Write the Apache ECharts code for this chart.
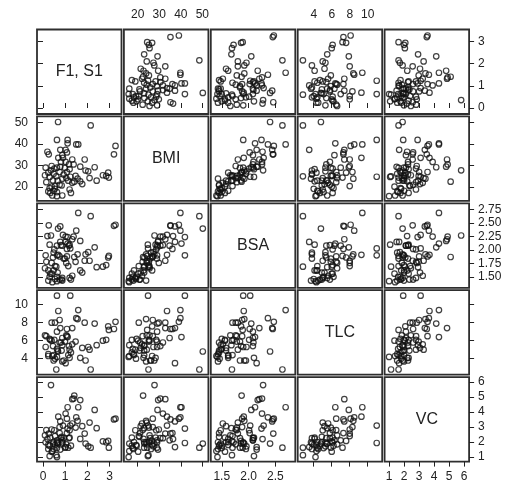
<!DOCTYPE html>
<html><head><meta charset="utf-8">
<script src="https://cdn.jsdelivr.net/npm/echarts@6/dist/echarts.min.js"></script>
<style>html,body{margin:0;padding:0;background:#fff}#c{width:505px;height:484px}</style>
</head><body><div id="c"></div>
<script>
const varNames = ['F1, S1', 'BMI', 'BSA', 'TLC', 'VC'];
const F1S1 = [3.27,3.20,2.97,2.94,2.85,2.70,2.42,2.33,2.15,2.10, 2.04,1.92,1.88,1.59,1.50,1.11,1.11,1.02,1.08,1.32, 1.17,1.38,1.68,1.02,1.20,1.23,1.41,1.47,1.56,1.68, 1.77,1.32,1.20,1.26,1.05,1.14,0.99,1.08,0.68,0.63, 0.20,0.26,0.78,0.87,0.69,0.90,0.81,0.12,0.39,0.51, 0.63,0.78,0.09,0.24,0.36,0.48,0.60,0.75,0.93,0.87, 0.30,0.45,0.30,0.39,0.54,0.75,0.84,0.24,0.33,0.48, 0.63,0.63,0.87,0.54,0.42,0.66,0.15];
const BMI = [39.1,35.2,24.4,26.7,25.2,25.5,23.0,29.2,48.6,24.2, 27.3,27.7,32.8,39.8,39.8,41.9,40.3,37.3,36.1,32.8, 30.5,30.5,29.5,31.7,28.3,24.8,22.5,25.2,23.9,22.7, 21.4,22.0,18.9,17.3,24.2,23.0,28.9,27.0,50.2,41.9, 36.4,35.2,37.3,34.8,33.6,33.6,31.7,29.0,29.8,28.6, 29.0,29.4,25.5,26.7,27.8,26.2,25.0,27.0,25.8,23.9, 24.7,23.1,19.5,20.2,20.5,21.1,20.8,18.0,17.3,18.3, 17.7,15.8,16.1,19.2,16.1,23.0,22.3];
const BSA = [2.47,2.45,1.89,1.86,1.72,1.69,1.68,2.05,2.63,1.80, 1.96,1.92,1.80,2.69,2.36,2.24,2.12,2.15,2.02,2.20, 2.08,2.25,2.17,2.25,2.10,2.03,1.87,1.78,1.92,1.62, 1.58,1.52,1.48,1.45,1.76,1.70,1.84,1.88,2.40,1.90, 2.26,2.46,2.44,2.08,1.91,2.28,2.09,1.90,1.76,2.01, 2.08,2.15,1.66,1.62,2.27,1.95,1.69,1.88,1.84,1.43, 2.10,1.86,1.50,1.56,1.70,1.45,1.45,1.43,1.56,1.62, 1.50,1.42,1.48,1.46,1.40,1.58,1.78];
const TLC = [8.1,7.3,7.2,7.6,6.1,6.0,5.5,7.9,2.8,5.0, 5.3,3.8,8.0,9.4,8.5,null,6.4,3.5,7.3,7.4, 5.4,null,null,null,4.1,11.0,null,5.9,8.4,4.1, 5.2,5.6,5.0,4.7,6.6,4.4,5.9,6.5,4.8,11.0, null,null,7.4,6.3,9.3,null,5.8,5.3,8.0,6.1, 7.0,null,6.6,4.3,null,3.8,2.8,8.3,3.8,3.7, null,5.4,6.2,6.0,8.0,5.8,4.9,4.5,6.1,4.4, 5.1,4.2,5.5,4.0,4.3,4.9,6.5];
const VC = [3.56,3.51,1.63,2.08,1.99,2.05,2.93,4.14,1.63,3.3, 1.72,1.9,2.57,4.32,3.65,2.9,4.32,1.67,2.6,4.86, 2.26,4.9,4.8,3.9,2.3,3.1,5.1,2.97,3.42,2.21, 3.06,3.24,2.79,1.76,1.85,1.63,1.63,3.56,1.9,1.94, 2.2,2.57,3.38,2.12,3.69,3.1,2.26,1.99,2.84,2.79, 2.12,1.5,2.45,1.81,5.8,1.54,1.13,3.0,2.26,1.99, 1.07,1.9,1.76,1.36,2.4,2.6,2.35,1.54,2.3,2.0, 1.6,1.0,1.9,1.8,1.4,2.0,2.8];
const ticksF1 = [0, 1, 2, 3];
const ticksBMI = [20, 30, 40, 50];
const ticksBSAx = [1.5, 2.0, 2.5];
const ticksBSAy = [1.5, 1.75, 2.0, 2.25, 2.5, 2.75];
const ticksTLC = [4, 6, 8, 10];
const ticksVC = [1, 2, 3, 4, 5, 6];

const vars = [F1S1, BMI, BSA, TLC, VC];
const ticksX = [ticksF1, ticksBMI, ticksBSAx, ticksTLC, ticksVC];
const ticksY = [ticksF1, ticksBMI, ticksBSAy, ticksTLC, ticksVC];
const ranges = [[-0.27, 3.54], [13.6, 52.8], [1.296, 2.87], [2.22, 11.61], [0.7, 6.33]];
const fmtX = [v => String(v), v => String(v), v => v.toFixed(1), v => String(v), v => String(v)];
const fmtY = [v => String(v), v => String(v), v => v.toFixed(2), v => String(v), v => String(v)];

const L0 = 37, T0 = 29.5, STEP = 86.9, SIZE = 84.5;
const FONT = 'Liberation Sans, Arial, sans-serif';
const grids = [], xAxes = [], yAxes = [], series = [], graphics = [];
for (let r = 0; r < 5; r++) {
  for (let c = 0; c < 5; c++) {
    const gi = r * 5 + c;
    const left = L0 + c * STEP, top = T0 + r * STEP;
    grids.push({left: left, top: top, width: SIZE, height: SIZE, show: true,
      borderColor: '#2e2e2e', borderWidth: 1.8, backgroundColor: 'transparent', containLabel: false});
    const xEdge = (r === 0 || r === 4);
    const xLab = (r === 0 && c % 2 === 1) || (r === 4 && c % 2 === 0);
    xAxes.push({type: 'value', gridIndex: gi, min: ranges[c][0], max: ranges[c][1],
      position: r === 0 ? 'top' : 'bottom', show: xEdge,
      axisLine: {show: false}, splitLine: {show: false},
      axisTick: {show: xEdge, length: 5, customValues: ticksX[c], lineStyle: {color: '#222', width: 1}},
      axisLabel: {show: xLab, customValues: ticksX[c], margin: 9, fontSize: 12, color: '#222', fontFamily: FONT, formatter: fmtX[c]}});
    const yEdge = (c === 0 || c === 4);
    const yLab = (c === 0 && r % 2 === 1) || (c === 4 && r % 2 === 0);
    yAxes.push({type: 'value', gridIndex: gi, min: ranges[r][0], max: ranges[r][1],
      position: c === 0 ? 'left' : 'right', show: yEdge,
      axisLine: {show: false}, splitLine: {show: false},
      axisTick: {show: yEdge, length: 5, customValues: ticksY[r], lineStyle: {color: '#222', width: 1}},
      axisLabel: {show: yLab, customValues: ticksY[r], margin: 9, fontSize: 12, color: '#222', fontFamily: FONT, formatter: fmtY[r]}});
    if (r === c) {
      graphics.push({type: 'text', x: left + SIZE / 2, y: top + SIZE / 2,
        style: {text: varNames[r], fontSize: 16, fontFamily: FONT, fill: '#222',
          align: 'center', verticalAlign: 'middle', textAlign: 'center', textVerticalAlign: 'middle'}});
    } else {
      const xs = vars[c], ys = vars[r];
      const data = [];
      for (let i = 0; i < xs.length; i++) {
        if (xs[i] != null && ys[i] != null) data.push([xs[i], ys[i]]);
      }
      series.push({type: 'scatter', xAxisIndex: gi, yAxisIndex: gi, data: data,
        symbol: 'circle', symbolSize: 5.5, silent: true,
        itemStyle: {color: 'rgba(0,0,0,0)', borderColor: '#111', borderWidth: 1.2}});
    }
  }
}
const chart = echarts.init(document.getElementById('c'), null, {renderer: 'canvas'});
chart.setOption({animation: false, backgroundColor: '#fff', grid: grids, xAxis: xAxes, yAxis: yAxes, series: series, graphic: graphics});
</script></body></html>
